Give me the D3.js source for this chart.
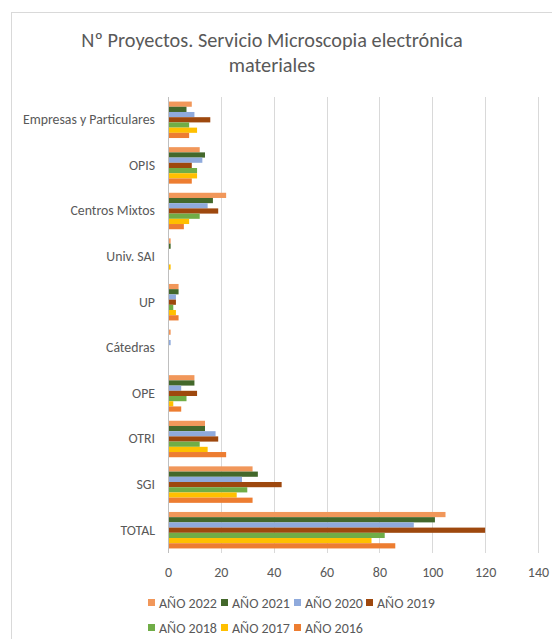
<!DOCTYPE html>
<html>
<head>
<meta charset="utf-8">
<script src="https://cdn.jsdelivr.net/npm/d3@7"></script>
<style>
  html, body { margin: 0; padding: 0; background: #fff; }
  svg { display: block; }
  text { font-family: Carlito, Calibri, Lato, "Open Sans", sans-serif; fill: #595959; }
</style>
</head>
<body>
<svg id="chart" width="552" height="639"></svg>
<script>
// Categories, bottom to top as listed in the source table
const categories = ["TOTAL", "SGI", "OTRI", "OPE", "Cátedras", "UP", "Univ. SAI", "Centros Mixtos", "OPIS", "Empresas y Particulares"];

// Series names (legend order)
const seriesNames = ["AÑO 2022", "AÑO 2021", "AÑO 2020", "AÑO 2019", "AÑO 2018", "AÑO 2017", "AÑO 2016"];
const seriesColors = ["#F1975A", "#43682B", "#8FAADC", "#9E480E", "#70AD47", "#FFC000", "#ED7D31"];

// Values per series, in the same order as categories
const ano2022 = [105, 32, 14, 10, 1, 4, 1, 22, 12, 9];
const ano2021 = [101, 34, 14, 10, 0, 4, 1, 17, 14, 7];
const ano2020 = [93, 28, 18, 5, 1, 3, 0, 15, 13, 10];
const ano2019 = [120, 43, 19, 11, 0, 3, 0, 19, 9, 16];
const ano2018 = [82, 30, 12, 7, 0, 2, 0, 12, 11, 8];
const ano2017 = [77, 26, 15, 2, 0, 3, 1, 8, 11, 11];
const ano2016 = [86, 32, 22, 5, 0, 4, 0, 6, 9, 8];

const xTicks = [0, 20, 40, 60, 80, 100, 120, 140];

const seriesValues = [ano2022, ano2021, ano2020, ano2019, ano2018, ano2017, ano2016];
const series = seriesNames.map((name, i) => ({ name, color: seriesColors[i], values: seriesValues[i] }));

const FONT = "Carlito, Calibri, Lato, 'Open Sans', sans-serif";
const svg = d3.select("#chart");

// Chart frame
svg.append("rect")
  .attr("x", 11.5).attr("y", 12.5)
  .attr("width", 560).attr("height", 640)
  .attr("fill", "none").attr("stroke", "#d9d9d9").attr("stroke-width", 1);

// Title
const title = svg.append("text")
  .attr("text-anchor", "middle")
  .style("font-size", "20.3px");
title.append("tspan").attr("x", 272).attr("y", 47).text("Nº Proyectos. Servicio Microscopia electrónica");
title.append("tspan").attr("x", 272).attr("y", 72).text("materiales");

const plot = { left: 168, right: 538, top: 97, bottom: 553 };

const x = d3.scaleLinear().domain([0, 140]).range([plot.left, plot.right]);

// Categories run bottom-to-top, so reverse for the band scale
const y = d3.scaleBand()
  .domain(categories.slice().reverse())
  .range([plot.top, plot.bottom])
  .paddingInner(0.2)
  .paddingOuter(0.1);

const ySeries = d3.scaleBand()
  .domain(seriesNames)
  .range([0, y.bandwidth()]);

// Vertical gridlines
svg.append("g")
  .selectAll("line")
  .data(xTicks.slice(1))
  .join("line")
  .attr("x1", d => Math.round(x(d)) + 0.5).attr("x2", d => Math.round(x(d)) + 0.5)
  .attr("y1", plot.top).attr("y2", plot.bottom)
  .attr("stroke", "#d9d9d9").attr("stroke-width", 1);

// Bars
const groups = svg.append("g")
  .selectAll("g")
  .data(categories)
  .join("g")
  .attr("transform", d => `translate(0,${y(d)})`);

groups.selectAll("rect")
  .data((cat, ci) => series.map(s => ({ name: s.name, color: s.color, value: s.values[ci] })))
  .join("rect")
  .attr("x", x(0))
  .attr("y", d => ySeries(d.name))
  .attr("width", d => x(d.value) - x(0))
  .attr("height", ySeries.bandwidth())
  .attr("fill", d => d.color);

// Value axis tick labels
const xAxis = d3.axisBottom(x).tickValues(xTicks).tickSize(0).tickPadding(14);
const gx = svg.append("g")
  .attr("transform", `translate(0,${plot.bottom})`)
  .call(xAxis);
gx.select(".domain").remove();
gx.selectAll("text").style("font-size", "14px").attr("fill", "#595959").style("font-family", FONT);

// Category axis
const yAxis = d3.axisLeft(y).tickSize(0).tickPadding(13);
const gy = svg.append("g")
  .attr("transform", `translate(${x(0)},0)`)
  .call(yAxis);
gy.select(".domain").attr("stroke", "#bfbfbf").attr("d", `M0.5,${plot.top}V${plot.bottom}`);
gy.selectAll("text").style("font-size", "13.8px").attr("fill", "#595959").style("font-family", FONT);

// Legend, two rows
const legendRows = [
  { y: 603, items: series.slice(0, 4) },
  { y: 628, items: series.slice(4) }
];
const legendX = [148, 221, 294, 366];
legendRows.forEach(row => {
  const g = svg.append("g");
  row.items.forEach((s, i) => {
    g.append("rect")
      .attr("x", legendX[i]).attr("y", row.y - 4)
      .attr("width", 7).attr("height", 7)
      .attr("fill", s.color);
    g.append("text")
      .attr("x", legendX[i] + 11).attr("y", row.y)
      .attr("dy", "0.35em")
      .style("font-size", "14px")
      .text(s.name);
  });
});
</script>
</body>
</html>
